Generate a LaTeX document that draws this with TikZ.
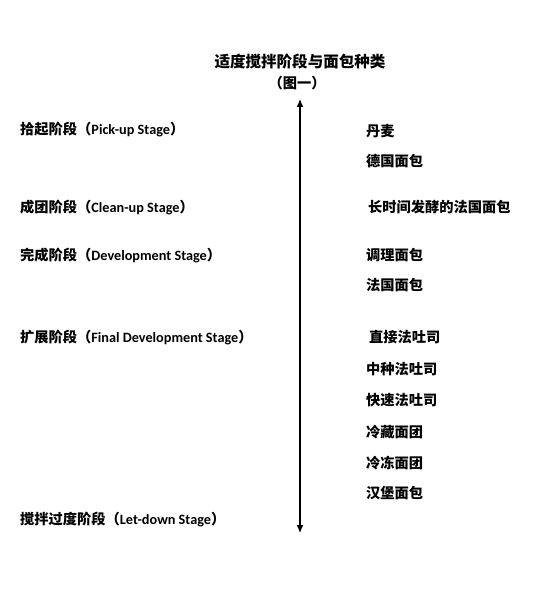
\documentclass[tikz,border=0pt]{standalone}
\usepackage{fontspec}
\usetikzlibrary{arrows.meta}
\setmainfont{Carlito}
\newfontfamily\cjk{Noto Sans CJK SC}
\newcommand{\zh}[1]{{\cjk #1}}

\begin{document}
\begin{tikzpicture}[x=1bp,y=-1bp,>={Latex[length=8pt,width=7pt]},
  stage/.style={anchor=west,inner sep=0pt,font=\fontsize{14.3}{17}\selectfont\bfseries},
  bread/.style={anchor=west,inner sep=0pt,font=\fontsize{14.3}{17}\selectfont\bfseries\cjk}]
\useasboundingbox[fill=white] (0,0) rectangle (550,593);

\node[font=\fontsize{15.6}{18}\selectfont\bfseries\cjk] (title) at (300,62) {适度搅拌阶段与面包种类};
\node[font=\fontsize{14.3}{17}\selectfont\bfseries\cjk] (fig) at (297,83) {（图一）};

\coordinate (top) at (300,99);
\coordinate (bot) at (300,533);
\draw[<->,line width=1.2pt] (top) -- (bot);

\node[stage] (s1) at (20,130) {\zh{拾起阶段（}Pick-up Stage\zh{）}};
\node[stage] (s2) at (20,207) {\zh{成团阶段（}Clean-up Stage\zh{）}};
\node[stage] (s3) at (20,255) {\zh{完成阶段（}Development Stage\zh{）}};
\node[stage] (s4) at (20,337) {\zh{扩展阶段（}Final Development Stage\zh{）}};
\node[stage] (s5) at (20,519) {\zh{搅拌过度阶段（}Let-down Stage\zh{）}};

\node[bread] (b1) at (366,131) {丹麦};
\node[bread] (b2) at (366,161) {德国面包};
\node[bread] (b3) at (368,207) {长时间发酵的法国面包};
\node[bread] (b4) at (366,255) {调理面包};
\node[bread] (b5) at (366,285) {法国面包};
\node[bread] (b6) at (369,337) {直接法吐司};
\node[bread] (b7) at (366,369) {中种法吐司};
\node[bread] (b8) at (366,400) {快速法吐司};
\node[bread] (b9) at (366,432) {冷藏面团};
\node[bread] (b10) at (366,463) {冷冻面团};
\node[bread] (b11) at (366,493) {汉堡面包};

\end{tikzpicture}
\end{document}
